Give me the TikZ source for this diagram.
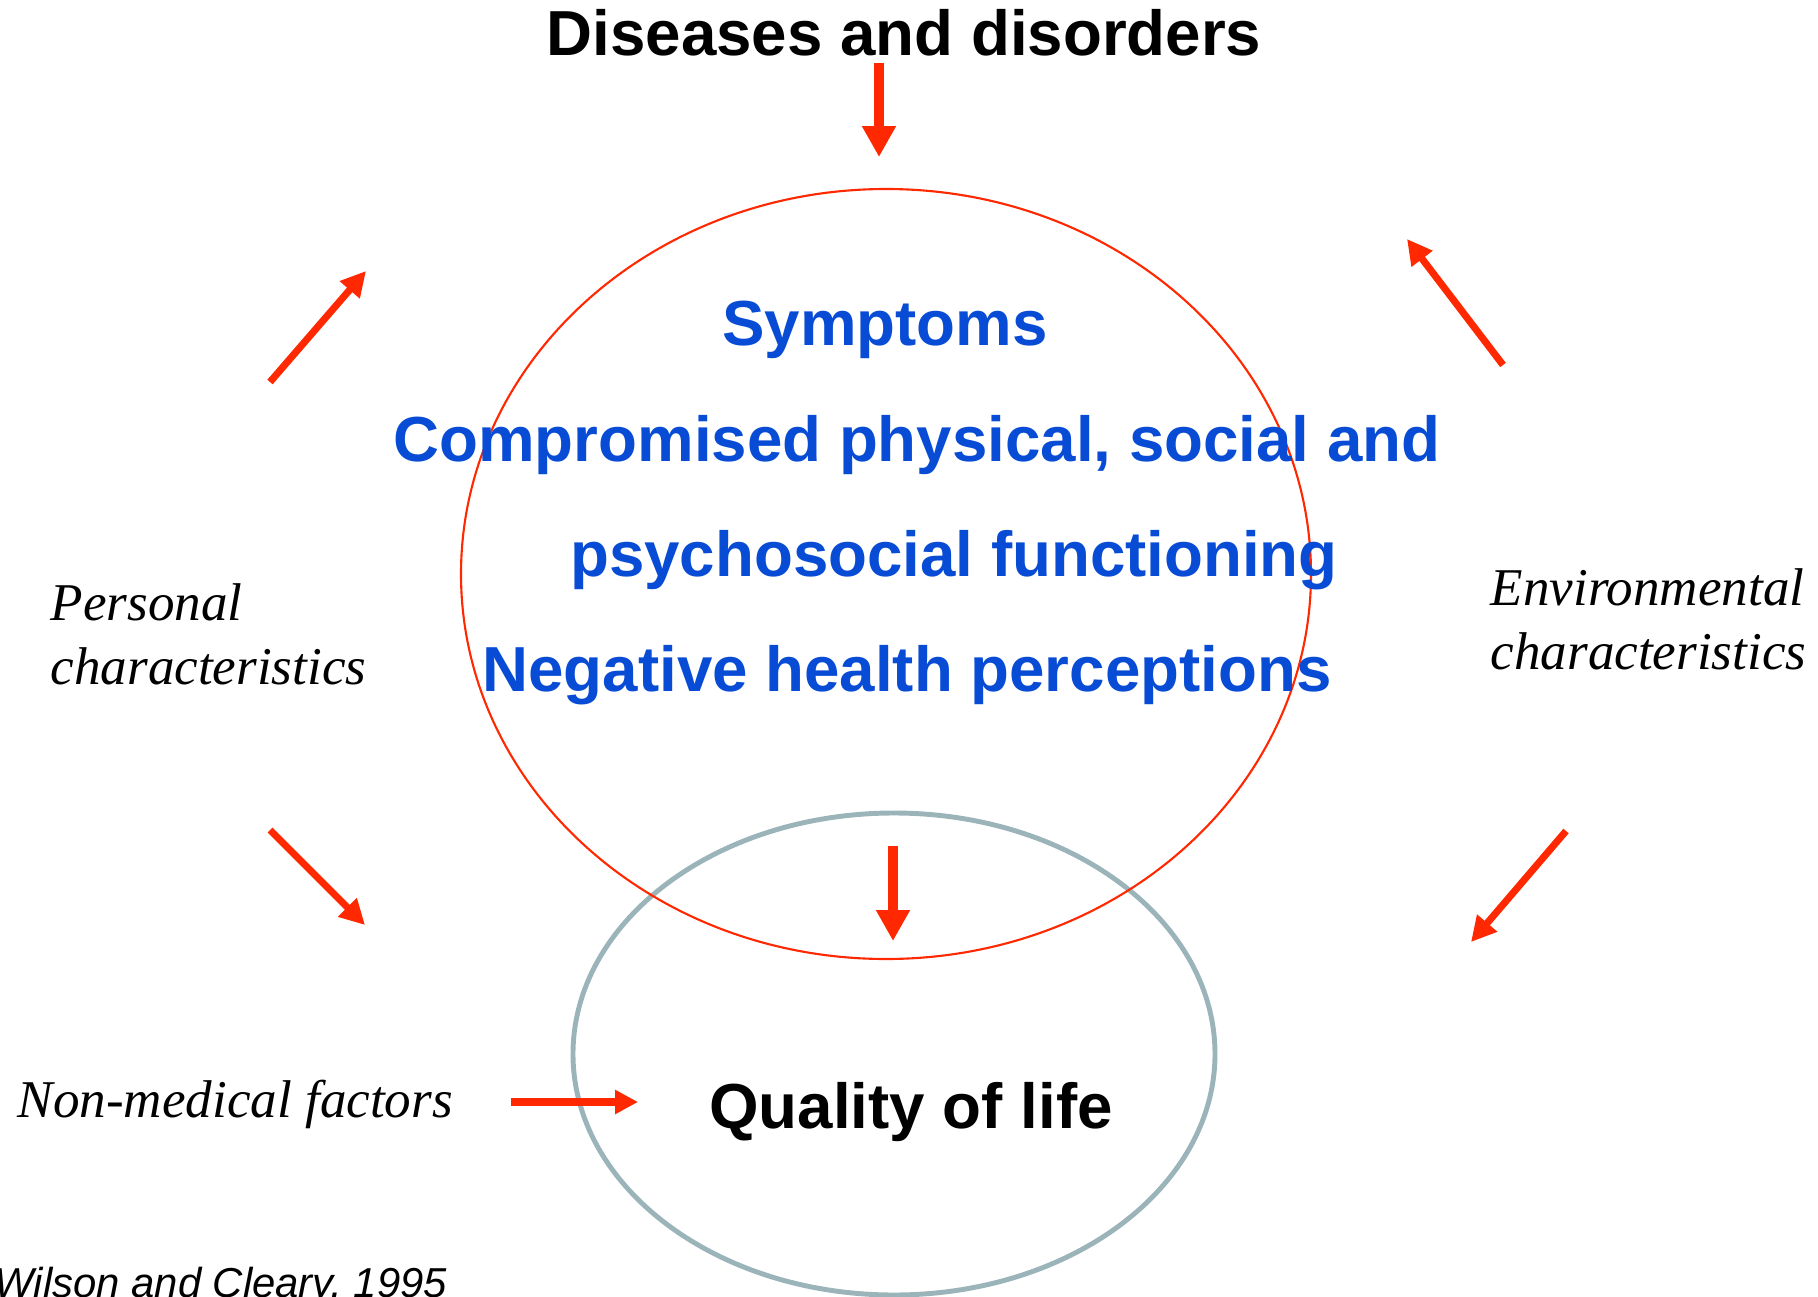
\documentclass[tikz,border=0pt]{standalone}
\usepackage{fontspec}
\setmainfont{Liberation Sans}
\newfontfamily\labelfont{Liberation Serif}
\usetikzlibrary{arrows.meta}

\definecolor{arrowred}{RGB}{255,40,0}
\definecolor{modelblue}{RGB}{8,76,214}
\definecolor{qolgray}{RGB}{155,180,185}

\tikzset{
  headline/.style={inner sep=0pt, anchor=base, font=\fontsize{18.1}{22}\selectfont\bfseries},
  modeltext/.style={headline, text=modelblue},
  factor/.style={inner sep=0pt, anchor=base west, font=\fontsize{15.1}{18.5}\selectfont\labelfont\itshape},
  bigarrow/.style={arrowred, line width=2.85pt, -{Triangle[length=8.8pt, width=9.1pt]}},
  smallarrow/.style={arrowred, line width=2pt, -{Triangle[length=7.1pt, width=7.1pt]}}
}

\begin{document}
\begin{tikzpicture}[x=0.01cm, y=-0.01cm]
\useasboundingbox (0,0) rectangle (1818,1297);

% the two circles
\draw[qolgray, line width=1.4pt] (894,1054) ellipse [x radius=321, y radius=241];
\draw[arrowred, line width=0.6pt] (886,574) ellipse [x radius=425, y radius=385];

% texts
\node[headline] (disease) at (904,56) {Diseases and disorders};
\node[modeltext] (symptoms) at (885,345) {Symptoms};
\node[modeltext] (funcA) at (917,461) {Compromised physical, social and};
\node[modeltext] (funcB) at (954,576) {psychosocial functioning};
\node[modeltext] (percept) at (907,691) {Negative health perceptions};
\node[headline] (qol) at (911,1128) {Quality of life};

\node[factor] (personalA) at (50,620) {Personal};
\node[factor] (personalB) at (50,684) {characteristics};
\node[factor] (environA) at (1490,605) {Environmental};
\node[factor] (environB) at (1490,669) {characteristics};
\node[factor] (nonmed) at (17,1117) {Non-medical factors};
\node[inner sep=0pt, anchor=base west, font=\fontsize{11.9}{14}\selectfont\itshape] (source) at (-6,1297) {Wilson and Cleary, 1995};

% arrow ends
\coordinate (topA) at (879,63);   \coordinate (topB) at (879,157);
\coordinate (midA) at (893,846);  \coordinate (midB) at (893,941);
\coordinate (ulA) at (270,382);   \coordinate (ulB) at (366,271);
\coordinate (urA) at (1503,365);  \coordinate (urB) at (1407,239);
\coordinate (llA) at (270,830);   \coordinate (llB) at (365,925);
\coordinate (lrA) at (1566,831);  \coordinate (lrB) at (1471,942);
\coordinate (nmA) at (511,1102);  \coordinate (nmB) at (638,1102);

% arrows
\draw[bigarrow] (topA) -- (topB);
\draw[bigarrow] (midA) -- (midB);
\draw[smallarrow] (ulA) -- (ulB);
\draw[smallarrow] (urA) -- (urB);
\draw[smallarrow] (llA) -- (llB);
\draw[smallarrow] (lrA) -- (lrB);
\draw[smallarrow, -{Triangle[length=6.5pt, width=6.5pt]}] (nmA) -- (nmB);
\end{tikzpicture}
\end{document}
